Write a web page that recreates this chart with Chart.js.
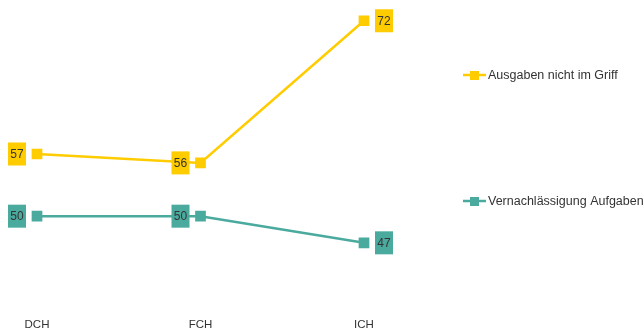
<!DOCTYPE html>
<html>
<head>
<meta charset="utf-8">
<script src="https://cdn.jsdelivr.net/npm/chart.js@4"></script>
<style>
  html, body { margin: 0; padding: 0; background: #fff; }
  #wrap { width: 644px; height: 332px; position: relative; }
</style>
</head>
<body>
<div id="wrap"><canvas id="chart"></canvas></div>
<script>
// categories and series
const categories = ['DCH', 'FCH', 'ICH'];
const seriesNames = ['Ausgaben nicht im Griff', 'Vernachlässigung Aufgaben'];
const ausgabenValues = [57, 56, 72];
const vernachValues = [50, 50, 47];
const seriesColors = ['#FFCC00', '#4BAA9E'];
const legendRows = [75, 201]; // y of legend entries

const FONT = '"Liberation Sans", Arial, sans-serif';

// value boxes: left of point for first two, right of point for the last
const valueBoxes = {
  id: 'valueBoxes',
  afterDatasetsDraw(chart) {
    const ctx = chart.ctx;
    ctx.save();
    chart.data.datasets.forEach((ds, di) => {
      const meta = chart.getDatasetMeta(di);
      meta.data.forEach((pt, i) => {
        const w = 18, h = 23;
        const last = i === meta.data.length - 1;
        const x0 = last ? pt.x + 11 : pt.x - 11 - w;
        const y0 = pt.y - h / 2;
        ctx.fillStyle = ds.borderColor;
        ctx.fillRect(x0, y0, w, h);
        ctx.fillStyle = '#333';
        ctx.font = '12px ' + FONT;
        ctx.textAlign = 'center';
        ctx.textBaseline = 'middle';
        ctx.fillText(String(ds.data[i]), x0 + w / 2, pt.y + 1);
      });
    });
    ctx.restore();
  }
};

// legend entries spread down the right side
const sideLegend = {
  id: 'sideLegend',
  afterDraw(chart) {
    const ctx = chart.ctx;
    ctx.save();
    chart.data.datasets.forEach((ds, di) => {
      const y = legendRows[di];
      ctx.strokeStyle = ds.borderColor;
      ctx.lineWidth = 2.5;
      ctx.beginPath();
      ctx.moveTo(463, y);
      ctx.lineTo(486, y);
      ctx.stroke();
      ctx.fillStyle = ds.borderColor;
      ctx.fillRect(470, y - 4, 9, 9);
      ctx.fillStyle = '#333';
      ctx.font = '12.5px ' + FONT;
      ctx.textAlign = 'left';
      ctx.textBaseline = 'middle';
      ctx.fillText(ds.label, 488, y + 1);
    });
    ctx.restore();
  }
};

new Chart(document.getElementById('chart'), {
  type: 'line',
  data: {
    labels: categories,
    datasets: [
      { label: seriesNames[0], data: ausgabenValues, borderColor: seriesColors[0], backgroundColor: seriesColors[0] },
      { label: seriesNames[1], data: vernachValues, borderColor: seriesColors[1], backgroundColor: seriesColors[1] }
    ].map(d => ({ ...d, borderWidth: 2.5, pointStyle: 'rect', pointRadius: 5.8, tension: 0, clip: false }))
  },
  options: {
    responsive: true,
    maintainAspectRatio: false,
    animation: false,
    layout: { autoPadding: false, padding: { left: 37, right: 280, top: 3, bottom: 0 } },
    plugins: { legend: { display: false }, tooltip: { enabled: false } },
    scales: {
      x: {
        offset: false,
        grid: { display: false, drawTicks: false },
        border: { display: false },
        ticks: { color: '#333', font: { size: 11.5, family: FONT }, padding: 13 },
        afterFit: (scale) => { scale.height = 27; }
      },
      y: { display: false, min: 40, max: 74 }
    }
  },
  plugins: [valueBoxes, sideLegend]
});
</script>
</body>
</html>
